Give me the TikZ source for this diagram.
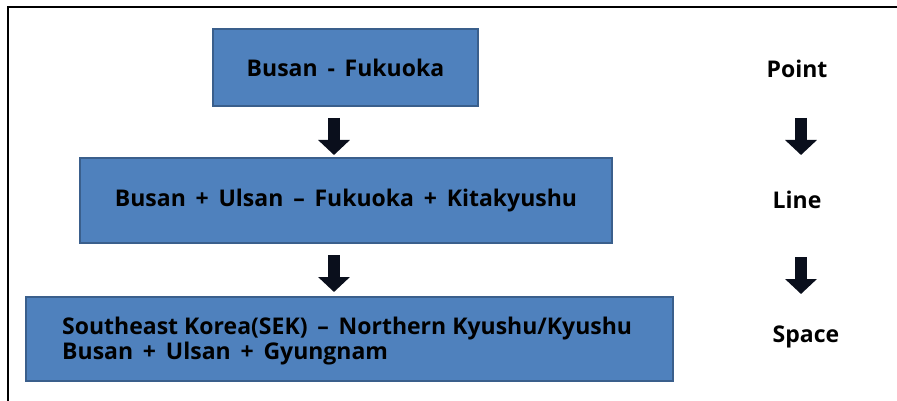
\documentclass[tikz,border=0pt]{standalone}
\usepackage{fontspec}
\setmainfont{Open Sans}
\usetikzlibrary{arrows.meta}
\definecolor{boxfill}{HTML}{4F81BD}
\definecolor{boxline}{HTML}{3A5F8C}
\definecolor{arrowcol}{HTML}{0A0F1C}
\begin{document}
\begin{tikzpicture}[x=1pt,y=-1pt,
  box/.style={rectangle,draw=boxline,line width=1.5pt,fill=boxfill,inner sep=0pt,
    font=\fontsize{23}{25}\selectfont\bfseries},
  label/.style={font=\fontsize{23}{25}\selectfont\bfseries,inner sep=0pt},
  blockarrow/.style={draw=arrowcol,line width=12pt,
    -{Triangle[width=31pt,length=15pt,fill=arrowcol]}}]
\useasboundingbox (0,0) rectangle (897,401);
\coordinate (fl) at (8,401);
\coordinate (ftl) at (8,7);
\coordinate (ftr) at (897,7);
\draw[line width=2pt] (fl) -- (ftl) -- (ftr);
\node[box,minimum width=265pt,minimum height=77pt] (b1) at (345.5,67.5) {Busan\, -\, Fukuoka};
\node[box,minimum width=532pt,minimum height=85pt] (b2) at (346,200.5) {Busan\, +\, Ulsan\, –\, Fukuoka\, +\, Kitakyushu};
\node[box,minimum width=647pt,minimum height=84pt] (b3) at (349.5,339) {};
\node[label,anchor=west,align=left] (b3t) at (62,341)
  {Southeast Korea(SEK)\, –\, Northern Kyushu/Kyushu\\Busan\, +\, Ulsan\, +\, Gyungnam};
\node[label] (p) at (797,69) {Point};
\node[label] (l) at (797,200) {Line};
\node[label] (s) at (806,337) {Space};
\coordinate (a1s) at (334,118); \coordinate (a1e) at (334,155);
\coordinate (a2s) at (334,255); \coordinate (a2e) at (334,292);
\coordinate (a3s) at (801,118); \coordinate (a3e) at (801,155);
\coordinate (a4s) at (801,257); \coordinate (a4e) at (801,294);
\draw[blockarrow] (a1s) -- (a1e);
\draw[blockarrow] (a2s) -- (a2e);
\draw[blockarrow] (a3s) -- (a3e);
\draw[blockarrow] (a4s) -- (a4e);
\end{tikzpicture}
\end{document}
